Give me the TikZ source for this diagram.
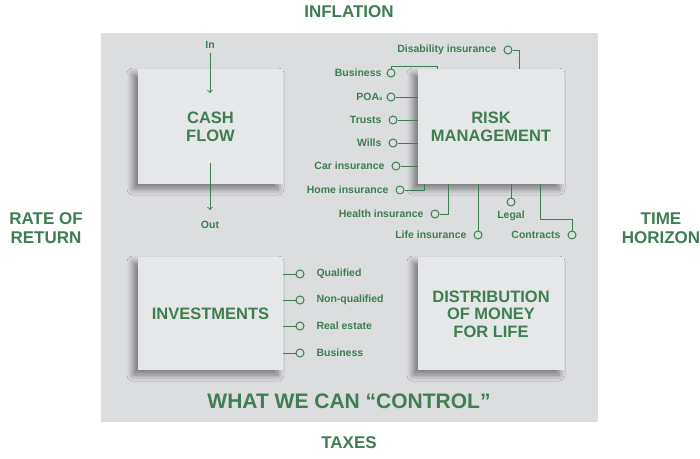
\documentclass[tikz,border=0pt]{standalone}
\usepackage{fontspec}
\setmainfont{Liberation Sans}
\usetikzlibrary{shadows.blur}
\definecolor{gr}{HTML}{3F7E50}
\definecolor{panel}{HTML}{DCDDDF}
\definecolor{boxc}{HTML}{E6E7E8}
\begin{document}
\begin{tikzpicture}[x=1pt,y=-1pt,
  box/.style={fill=boxc,blur shadow={shadow xshift=-5pt,shadow yshift=-5pt,shadow blur radius=6pt,shadow blur steps=10,shadow opacity=45},inner sep=0},
  big/.style={text=gr,font=\bfseries\fontsize{16.5}{17.5}\selectfont,align=center},
  side/.style={text=gr,font=\bfseries\fontsize{17}{19}\selectfont,align=center},
  lab/.style={text=gr,font=\bfseries\fontsize{10.5}{12}\selectfont},
  dot/.style={circle,draw=gr,line width=1pt,minimum size=8pt,inner sep=0},
  ln/.style={draw=gr,line width=1pt}]
\useasboundingbox (0,0) rectangle (700,458);
\fill[white] (0,0) rectangle (700,458);
\fill[panel] (101,33) rectangle (598,422);
% boxes
\path[box] (138,69) rectangle (283,184);
\path[box] (418,69) rectangle (564,184);
\path[box] (138,257) rectangle (283,370);
\path[box] (418,257) rectangle (564,370);
\node[big] (cf) at (210.5,127) {CASH\\FLOW};
\node[big] (rm) at (491,127) {RISK\\MANAGEMENT};
\node[big] (inv) at (210.5,314) {INVESTMENTS};
\node[big] (dm) at (491,314) {DISTRIBUTION\\OF MONEY\\FOR LIFE};
% outer labels
\node[side] (infl) at (349,12) {INFLATION};
\node[side] (tax) at (349,443) {TAXES};
\node[side] (ror) at (46,228) {RATE OF\\RETURN};
\node[side] (th) at (661,228) {TIME\\HORIZON};
\node[text=gr,font=\bfseries\fontsize{21}{24}\selectfont] (ctl) at (349,401) {WHAT WE CAN “CONTROL”};
% cash flow
\node[lab] (in) at (210,45) {In};
\node[lab] (out) at (210,225) {Out};
\coordinate (a1) at (210,53); \coordinate (a2) at (210,93);
\coordinate (b1) at (210,163); \coordinate (b2) at (210,210);
\draw[ln,->] (a1) -- (a2);
\draw[ln,->] (b1) -- (b2);
% risk items
\node[dot] (c1) at (508,50) {}; \node[lab,anchor=east] at (500,50) {Disability insurance};
\draw[ln] (c1.east) -- (519,50) -- (519,69);
\node[dot] (c2) at (391,73) {}; \node[lab,anchor=east] at (385,73) {Business};
\draw[ln] (c2.north) -- (391,66) -- (437,66) -- (437,69);
\node[dot] (c3) at (391,97) {}; \node[lab,anchor=east] at (386,97) {POA{\fontsize{6}{6}\selectfont s}};
\draw[ln] (c3.east) -- (418,97);
\node[dot] (c4) at (393,120) {}; \node[lab,anchor=east] at (385,120) {Trusts};
\draw[ln] (c4.east) -- (418,120);
\node[dot] (c5) at (393,143) {}; \node[lab,anchor=east] at (385,143) {Wills};
\draw[ln] (c5.east) -- (418,143);
\node[dot] (c6) at (396,166) {}; \node[lab,anchor=east] at (388,166) {Car insurance};
\draw[ln] (c6.east) -- (418,166);
\node[dot] (c7) at (400,190) {}; \node[lab,anchor=east] at (392,190) {Home insurance};
\draw[ln] (c7.east) -- (424,190) -- (424,184);
\node[dot] (c8) at (435,214) {}; \node[lab,anchor=east] at (427,214) {Health insurance};
\draw[ln] (c8.east) -- (448,214) -- (448,184);
\node[dot] (c9) at (478,235) {}; \node[lab,anchor=east] at (470,235) {Life insurance};
\draw[ln] (c9.north) -- (478,184);
\node[dot] (c10) at (511,202) {}; \node[lab] at (511,216) {Legal};
\draw[ln] (c10.north) -- (511,184);
\node[dot] (c11) at (572,235) {}; \node[lab,anchor=east] at (564,235) {Contracts};
\draw[ln] (c11.north) -- (572,219) -- (540,219) -- (540,184);
% investments
\foreach \y/\t [count=\i] in {274/Qualified,300/Non-qualified,326/Real estate,353/Business}{
  \node[dot] (q\i) at (300,\y) {};
  \node[lab,anchor=west] at (313,\y) {\t};
  \draw[ln] (283,\y) -- (q\i.west);
}
\end{tikzpicture}
\end{document}
